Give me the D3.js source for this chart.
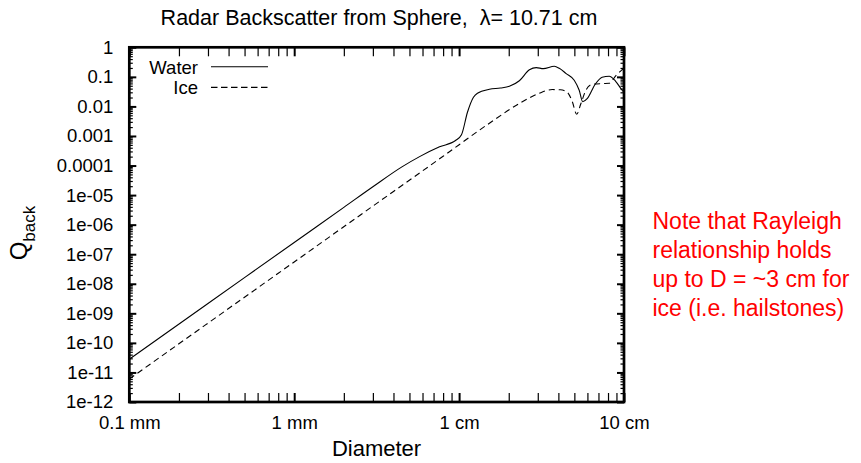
<!DOCTYPE html>
<html>
<head>
<meta charset="utf-8">
<script src="https://cdn.jsdelivr.net/npm/d3@7"></script>
<style>
  body { margin: 0; background: #fff; }
  svg text { font-family: "Liberation Sans", Arial, Helvetica, sans-serif; }
</style>
</head>
<body>
<div id="chart"></div>
<script>
// diameters in mm, Q_back
var waterDiam = [0.1, 0.3, 1, 2, 3.0, 4.5, 5.76, 7.61, 9.51, 10.34, 11.24, 12.22, 12.92, 15.27, 17.8, 20.18, 23.2, 26.7, 29.4, 32.4, 37.8, 40.5, 44.6, 49.9, 53.5, 56.2, 59.8, 66.9, 73.7, 81.3, 89.0, 97.4, 100];
var waterQ = [2.8e-11, 2.14e-9, 2.5e-7, 3.84e-6, 1.91e-5, 9.0e-5, 2.0e-4, 4.3e-4, 7.0e-4, 1.1e-3, 6.35e-3, 0.0204, 0.0279, 0.038, 0.042, 0.048, 0.0737, 0.173, 0.206, 0.19, 0.228, 0.195, 0.129, 0.0766, 0.0352, 0.0144, 0.0182, 0.056, 0.0968, 0.105, 0.071, 0.0352, 0.03];

var iceDiam = [0.1, 0.3, 1, 3, 8, 15.27, 24.18, 30.6, 36.7, 41.1, 45.3, 48.5, 51.7, 54.6, 58.7, 64.1, 73.7, 81.3, 89.6, 98.8, 100];
var iceQ = [6.0e-12, 4.65e-10, 5.47e-8, 4.24e-6, 2.06e-4, 2.7e-3, 0.0144, 0.0279, 0.0372, 0.0365, 0.0301, 0.0149, 5.43e-3, 0.0118, 0.0352, 0.056, 0.0593, 0.0607, 0.113, 0.1875, 0.2];

var seriesNames = ["Water", "Ice"];

var xTicks = [0.1, 1, 10, 100];
var xTickLabels = ["0.1 mm", "1 mm", "1 cm", "10 cm"];
var yTicks = [1, 0.1, 0.01, 0.001, 1e-4, 1e-5, 1e-6, 1e-7, 1e-8, 1e-9, 1e-10, 1e-11, 1e-12];
var yTickLabels = ["1", "0.1", "0.01", "0.001", "0.0001", "1e-05", "1e-06", "1e-07", "1e-08", "1e-09", "1e-10", "1e-11", "1e-12"];

var noteLines = ["Note that Rayleigh", "relationship holds", "up to D = ~3 cm for", "ice (i.e. hailstones)"];

var margin = {top: 47.3, right: 237, bottom: 61, left: 129.3};
var fullWidth = 861, fullHeight = 463;
var width = 624 - margin.left;
var height = 402 - margin.top;

var svg = d3.select("#chart").append("svg")
    .attr("width", fullWidth)
    .attr("height", fullHeight);

var g = svg.append("g")
    .attr("transform", "translate(" + margin.left + "," + margin.top + ")");

var x = d3.scaleLog().domain([0.1, 100]).range([0, width]);
var y = d3.scaleLog().domain([1e-12, 1]).range([height, 0]);

// minor ticks 2..9 in every decade
function minors(lo, hi) {
  var out = [];
  for (var e = lo; e < hi; e++) {
    for (var k = 2; k <= 9; k++) out.push(k * Math.pow(10, e));
  }
  return out;
}
var xMinor = minors(-1, 2);
var yMinor = minors(-12, 0);

function xLabel(d) { return xTickLabels[xTicks.indexOf(d)]; }
function yLabel(d) { return yTickLabels[yTicks.indexOf(d)]; }

// bottom / top
g.append("g").attr("class", "axis major")
    .attr("transform", "translate(0," + height + ")")
    .call(d3.axisBottom(x).tickValues(xTicks).tickSize(-9).tickPadding(14).tickFormat(xLabel));
g.append("g").attr("class", "axis minor")
    .attr("transform", "translate(0," + height + ")")
    .call(d3.axisBottom(x).tickValues(xMinor).tickSize(-9).tickFormat(""));
g.append("g").attr("class", "axis major")
    .call(d3.axisTop(x).tickValues(xTicks).tickSize(-9).tickFormat(""));
g.append("g").attr("class", "axis minor")
    .call(d3.axisTop(x).tickValues(xMinor).tickSize(-9).tickFormat(""));

// left / right
g.append("g").attr("class", "axis major")
    .call(d3.axisLeft(y).tickValues(yTicks).tickSize(-7).tickPadding(16).tickFormat(yLabel));
g.append("g").attr("class", "axis minor")
    .call(d3.axisLeft(y).tickValues(yMinor).tickSize(-3.5).tickFormat(""));
g.append("g").attr("class", "axis major")
    .attr("transform", "translate(" + width + ",0)")
    .call(d3.axisRight(y).tickValues(yTicks).tickSize(-7).tickFormat(""));
g.append("g").attr("class", "axis minor")
    .attr("transform", "translate(" + width + ",0)")
    .call(d3.axisRight(y).tickValues(yMinor).tickSize(-3.5).tickFormat(""));

g.selectAll(".axis .domain").remove();
g.selectAll(".axis.major line").attr("stroke", "#000").attr("stroke-width", 2);
g.selectAll(".axis.minor line").attr("stroke", "#000").attr("stroke-width", 1.2);
g.selectAll(".axis text")
    .attr("fill", "#000")
    .style("font-size", "18.5px");

g.append("rect")
    .attr("width", width)
    .attr("height", height)
    .attr("fill", "none")
    .attr("stroke", "#000")
    .attr("stroke-width", 2.7);

var line = d3.line()
    .x(function(d) { return x(d[0]); })
    .y(function(d) { return y(d[1]); })
    .curve(d3.curveMonotoneX);

var waterPts = d3.zip(waterDiam, waterQ);
var icePts = d3.zip(iceDiam, iceQ);

g.append("path")
    .datum(waterPts)
    .attr("d", line)
    .attr("fill", "none")
    .attr("stroke", "#000")
    .attr("stroke-width", 1.1);

g.append("path")
    .datum(icePts)
    .attr("d", line)
    .attr("fill", "none")
    .attr("stroke", "#000")
    .attr("stroke-width", 1.1)
    .attr("stroke-dasharray", "6,4");

// legend
var legend = g.selectAll(".legend")
    .data(seriesNames)
    .enter().append("g")
    .attr("class", "legend")
    .attr("transform", function(d, i) { return "translate(0," + (19.5 + i * 20.6) + ")"; });

legend.append("text")
    .attr("x", 198 - margin.left)
    .attr("y", 7)
    .attr("text-anchor", "end")
    .style("font-size", "18.5px")
    .text(function(d) { return d; });

legend.append("line")
    .attr("x1", 211 - margin.left)
    .attr("x2", 268 - margin.left)
    .attr("stroke", "#000")
    .attr("stroke-width", 1.1)
    .attr("stroke-dasharray", function(d, i) { return i === 1 ? "6.5,3.5" : null; });

// titles
svg.append("text")
    .attr("x", 379)
    .attr("y", 25)
    .attr("text-anchor", "middle")
    .style("font-size", "21.5px")
    .style("white-space", "pre")
    .text("Radar Backscatter from Sphere,  \u03bb= 10.71 cm");

svg.append("text")
    .attr("x", 376.5)
    .attr("y", 456)
    .attr("text-anchor", "middle")
    .style("font-size", "22px")
    .text("Diameter");

var ylab = svg.append("text")
    .attr("transform", "translate(27,233) rotate(-90)")
    .attr("text-anchor", "middle")
    .style("font-size", "24px");
ylab.append("tspan").text("Q");
ylab.append("tspan").attr("dy", 8).style("font-size", "17px").text("back");

var note = svg.append("text")
    .attr("fill", "#ff0000")
    .style("font-size", "23px");
note.selectAll("tspan")
    .data(noteLines)
    .enter().append("tspan")
    .attr("x", 652.5)
    .attr("y", function(d, i) { return 229 + i * 29; })
    .text(function(d) { return d; });
</script>
</body>
</html>
